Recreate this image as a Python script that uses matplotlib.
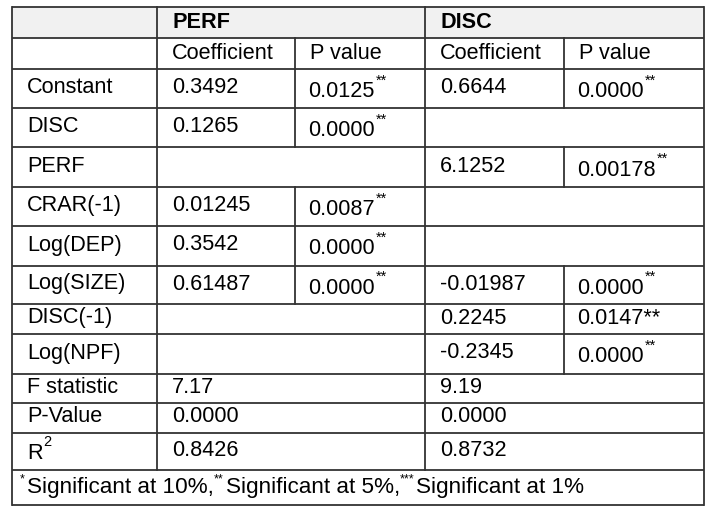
import matplotlib
matplotlib.use("Agg")
import matplotlib.pyplot as plt

plt.rcParams['font.family'] = ['Liberation Sans', 'DejaVu Sans']

groups = ["PERF", "DISC"]
sub_headers = ["Coefficient", "P value"]
rows = ["Constant", "DISC", "PERF", "CRAR(-1)", "Log(DEP)", "Log(SIZE)", "DISC(-1)", "Log(NPF)"]
perf_coef = ["0.3492", "0.1265", "", "0.01245", "0.3542", "0.61487", "", ""]
perf_p = ["0.0125", "0.0000", "", "0.0087", "0.0000", "0.0000", "", ""]
perf_stars = ["**", "**", "", "**", "**", "**", "", ""]
disc_coef = ["0.6644", "", "6.1252", "", "", "-0.01987", "0.2245", "-0.2345"]
disc_p = ["0.0000", "", "0.00178", "", "", "0.0000", "0.0147**", "0.0000"]
disc_stars = ["**", "", "**", "", "", "**", "", "**"]
stat_rows = ["F statistic", "P-Value", "R"]
perf_stats = ["7.17", "0.0000", "0.8426"]
disc_stats = ["9.19", "0.0000", "0.8732"]
footnote = [("*", "Significant at 10%,"), ("**", "Significant at 5%,"), ("***", "Significant at 1%")]

# layout in pixels
cols = [12, 157, 295, 425, 564, 704]
row_edges = [7, 38, 69, 108, 147, 187, 226, 266, 304, 334, 374, 403, 433, 470, 505]
FS = 15.6
SUP = 10.5
LC = '#333333'
LW = 1.3
PAD = 15

fig = plt.figure(figsize=(7.24, 5.08), dpi=100)
ax = fig.add_axes([0, 0, 1, 1])
ax.set_xlim(0, 724)
ax.set_ylim(508, 0)
ax.axis('off')

renderer = fig.canvas.get_renderer()


def right_edge(t):
    bb = t.get_window_extent(renderer)
    return ax.transData.inverted().transform((bb.x1, bb.y1))


def sup_text(x, y, base, sup, lift=7):
    t = ax.text(x, y, base, fontsize=FS, va='center', ha='left')
    if sup:
        xr, ytop = right_edge(t)
        ax.text(xr + 1, y - lift, sup, fontsize=SUP, va='center', ha='left')
    return t


# header fill
ax.fill_between([cols[0], cols[-1]], row_edges[0], row_edges[1], color='#f1f1f1', lw=0)

# horizontal lines
for y in row_edges:
    ax.plot([cols[0], cols[-1]], [y, y], color=LC, lw=LW, solid_capstyle='butt')

# vertical lines: outer and group boundaries everywhere except footnote row
for x in [cols[0], cols[-1]]:
    ax.plot([x, x], [row_edges[0], row_edges[-1]], color=LC, lw=LW)
for x in [cols[1], cols[3]]:
    ax.plot([x, x], [row_edges[0], row_edges[-2]], color=LC, lw=LW)
# inner column lines in header row 2 and where a group has values
ax.plot([cols[2], cols[2]], [row_edges[1], row_edges[2]], color=LC, lw=LW)
ax.plot([cols[4], cols[4]], [row_edges[1], row_edges[2]], color=LC, lw=LW)
for i in range(len(rows)):
    y0, y1 = row_edges[i + 2], row_edges[i + 3]
    if perf_coef[i] or perf_p[i]:
        ax.plot([cols[2], cols[2]], [y0, y1], color=LC, lw=LW)
    if disc_coef[i] or disc_p[i]:
        ax.plot([cols[4], cols[4]], [y0, y1], color=LC, lw=LW)

# header texts
yc = (row_edges[0] + row_edges[1]) / 2
for g, x in zip(groups, [cols[1], cols[3]]):
    ax.text(x + PAD, yc, g, fontsize=FS, fontweight='bold', va='center')
yc = (row_edges[1] + row_edges[2]) / 2
for j, x in enumerate(cols[1:5]):
    ax.text(x + PAD, yc, sub_headers[j % 2], fontsize=FS, va='center')

# body
for i, name in enumerate(rows):
    yc = (row_edges[i + 2] + row_edges[i + 3]) / 2 - 1
    ax.text(cols[0] + PAD, yc, name, fontsize=FS, va='center')
    ax.text(cols[1] + PAD, yc, perf_coef[i], fontsize=FS, va='center')
    ax.text(cols[3] + PAD, yc, disc_coef[i], fontsize=FS, va='center')
    if perf_p[i]:
        sup_text(cols[2] + PAD - 2, yc + (4 if perf_stars[i] else 0), perf_p[i], perf_stars[i], 11)
    if disc_p[i]:
        sup_text(cols[4] + PAD - 2, yc + (4 if disc_stars[i] else 0), disc_p[i], disc_stars[i], 11)

# statistics rows
for k, name in enumerate(stat_rows):
    r = len(rows) + 2 + k
    yc = (row_edges[r] + row_edges[r + 1]) / 2 - 1
    if name == "R":
        sup_text(cols[0] + PAD, yc + 3, name, "2", 11)
    else:
        ax.text(cols[0] + PAD, yc, name, fontsize=FS, va='center')
    ax.text(cols[1] + PAD, yc, perf_stats[k], fontsize=FS, va='center')
    ax.text(cols[3] + PAD, yc, disc_stats[k], fontsize=FS, va='center')

# footnote
yc = (row_edges[-2] + row_edges[-1]) / 2
x = cols[0] + 8
for stars, txt in footnote:
    s = ax.text(x, yc - 8, stars, fontsize=9, va='center', ha='left')
    x = right_edge(s)[0] + 2
    t = ax.text(x, yc, txt, fontsize=FS + 0.6, va='center', ha='left')
    x = right_edge(t)[0]

fig.savefig("out.png", dpi=100, facecolor='white')
